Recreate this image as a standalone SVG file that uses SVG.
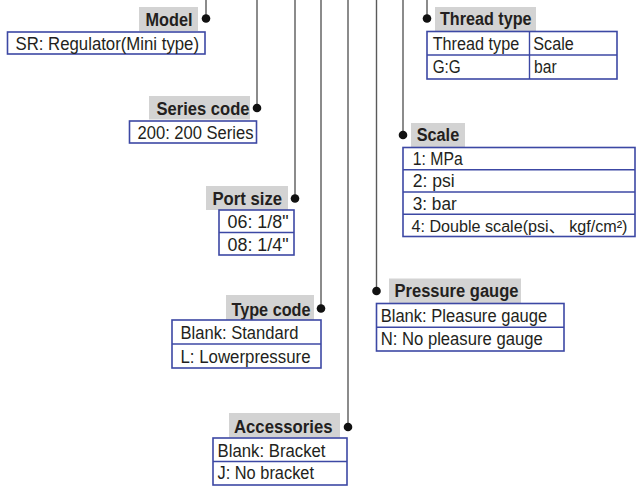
<svg xmlns="http://www.w3.org/2000/svg" width="637" height="487" viewBox="0 0 637 487">
<style>
.lbl{fill:#d3d3d3}
.box{fill:#fff;stroke:#3c48a4;stroke-width:1.6}
.div{stroke:#3c48a4;stroke-width:1.4}
.t{font-family:"Liberation Sans","Noto Sans CJK SC",sans-serif;font-size:17.5px;fill:#231f20}
.b{font-family:"Liberation Sans",sans-serif;font-size:17.5px;font-weight:bold;fill:#231f20}
.ln{stroke:#5a5a5a;stroke-width:1.4;fill:none}
.dot{fill:#111}
</style>
<rect width="637" height="487" fill="#fff"/>
<g id="connectors">
<line class="ln" x1="206" y1="0" x2="206" y2="18.5"/>
<line class="ln" x1="257" y1="0" x2="257" y2="108"/>
<line class="ln" x1="295" y1="0" x2="295" y2="198.5"/>
<line class="ln" x1="321" y1="0" x2="321" y2="308.5"/>
<line class="ln" x1="348" y1="0" x2="348" y2="427"/>
<line class="ln" x1="376.5" y1="0" x2="376.5" y2="291"/>
<line class="ln" x1="403" y1="0" x2="403" y2="135"/>
<line class="ln" x1="427" y1="0" x2="427" y2="18.5"/>
<circle class="dot" cx="206" cy="18.5" r="4.3"/>
<circle class="dot" cx="257" cy="108" r="4.3"/>
<circle class="dot" cx="295" cy="198.5" r="4.3"/>
<circle class="dot" cx="321" cy="308.5" r="4.3"/>
<circle class="dot" cx="348" cy="427" r="4.3"/>
<circle class="dot" cx="376.5" cy="291" r="4.3"/>
<circle class="dot" cx="403" cy="135" r="4.3"/>
<circle class="dot" cx="427" cy="18.5" r="4.3"/>
</g>
<g id="model">
<rect class="lbl" x="139" y="7" width="59" height="24"/>
<text class="b" x="145.5" y="26" textLength="47" lengthAdjust="spacingAndGlyphs">Model</text>
<rect class="box" x="7.5" y="32" width="197.5" height="22"/>
<text class="t" x="15.5" y="49.5" textLength="183.5" lengthAdjust="spacingAndGlyphs">SR: Regulator(Mini type)</text>
</g>
<g id="series-code">
<rect class="lbl" x="149" y="96" width="101" height="23.5"/>
<text class="b" x="156.5" y="115" textLength="93" lengthAdjust="spacingAndGlyphs">Series code</text>
<rect class="box" x="129.5" y="121" width="127" height="22"/>
<text class="t" x="137.5" y="138.5" textLength="116" lengthAdjust="spacingAndGlyphs">200: 200 Series</text>
</g>
<g id="port-size">
<rect class="lbl" x="206" y="186" width="82" height="24"/>
<text class="b" x="212.5" y="205" textLength="69.5" lengthAdjust="spacingAndGlyphs">Port size</text>
<rect class="box" x="219" y="210" width="75" height="45"/>
<line class="div" x1="219" y1="232.5" x2="294" y2="232.5"/>
<text class="t" x="227.5" y="228.3" textLength="61" lengthAdjust="spacingAndGlyphs">06: 1/8"</text>
<text class="t" x="227.5" y="250.7" textLength="61" lengthAdjust="spacingAndGlyphs">08: 1/4"</text>
</g>
<g id="type-code">
<rect class="lbl" x="226" y="295" width="88" height="25"/>
<text class="b" x="231.5" y="315.5" textLength="79" lengthAdjust="spacingAndGlyphs">Type code</text>
<rect class="box" x="172" y="320" width="149" height="48"/>
<line class="div" x1="172" y1="344" x2="321" y2="344"/>
<text class="t" x="180.5" y="339.3" textLength="118" lengthAdjust="spacingAndGlyphs">Blank: Standard</text>
<text class="t" x="180.5" y="363.3" textLength="130" lengthAdjust="spacingAndGlyphs">L: Lowerpressure</text>
</g>
<g id="accessories">
<rect class="lbl" x="229" y="413" width="111" height="24.5"/>
<text class="b" x="234" y="432.7" textLength="98.5" lengthAdjust="spacingAndGlyphs">Accessories</text>
<rect class="box" x="213" y="438" width="134" height="47"/>
<line class="div" x1="213" y1="461.5" x2="347" y2="461.5"/>
<text class="t" x="217.5" y="456.7" textLength="108" lengthAdjust="spacingAndGlyphs">Blank: Bracket</text>
<text class="t" x="217.5" y="479.3" textLength="96.5" lengthAdjust="spacingAndGlyphs">J: No bracket</text>
</g>
<g id="pressure-gauge">
<rect class="lbl" x="389" y="278.5" width="132" height="25"/>
<text class="b" x="394.5" y="297.3" textLength="124" lengthAdjust="spacingAndGlyphs">Pressure gauge</text>
<rect class="box" x="376.5" y="303.5" width="187.5" height="47.5"/>
<line class="div" x1="376.5" y1="327.3" x2="564" y2="327.3"/>
<text class="t" x="380.7" y="321.7" textLength="166.5" lengthAdjust="spacingAndGlyphs">Blank: Pleasure gauge</text>
<text class="t" x="380.7" y="345" textLength="162" lengthAdjust="spacingAndGlyphs">N: No pleasure gauge</text>
</g>
<g id="scale">
<rect class="lbl" x="411" y="123" width="54" height="24"/>
<text class="b" x="416.7" y="140.7" textLength="42.5" lengthAdjust="spacingAndGlyphs">Scale</text>
<rect class="box" x="403" y="147.5" width="232" height="89"/>
<line class="div" x1="403" y1="169.7" x2="635" y2="169.7"/>
<line class="div" x1="403" y1="192" x2="635" y2="192"/>
<line class="div" x1="403" y1="214.3" x2="635" y2="214.3"/>
<text class="t" x="412.7" y="165" textLength="50" lengthAdjust="spacingAndGlyphs">1: MPa</text>
<text class="t" x="412.7" y="187.3" textLength="42" lengthAdjust="spacingAndGlyphs">2: psi</text>
<text class="t" x="412.7" y="209.7" textLength="44" lengthAdjust="spacingAndGlyphs">3: bar</text>
<text class="t" x="411.5" y="232.2" style="font-size:16px" textLength="216" lengthAdjust="spacingAndGlyphs">4: Double scale(psi、 kgf/cm²)</text>
</g>
<g id="thread-type">
<rect class="lbl" x="435" y="7" width="101" height="24"/>
<text class="b" x="440" y="24.5" textLength="91.5" lengthAdjust="spacingAndGlyphs">Thread type</text>
<rect class="box" x="427" y="31.5" width="190" height="47.5"/>
<line class="div" x1="427" y1="55" x2="617" y2="55"/>
<line class="div" x1="529.5" y1="31.5" x2="529.5" y2="79"/>
<text class="t" x="432.7" y="49.5" textLength="86.5" lengthAdjust="spacingAndGlyphs">Thread type</text>
<text class="t" x="533.3" y="49.5" textLength="40.5" lengthAdjust="spacingAndGlyphs">Scale</text>
<text class="t" x="432.7" y="72.8" textLength="28" lengthAdjust="spacingAndGlyphs">G:G</text>
<text class="t" x="534" y="72.8" textLength="22.7" lengthAdjust="spacingAndGlyphs">bar</text>
</g>
</svg>
